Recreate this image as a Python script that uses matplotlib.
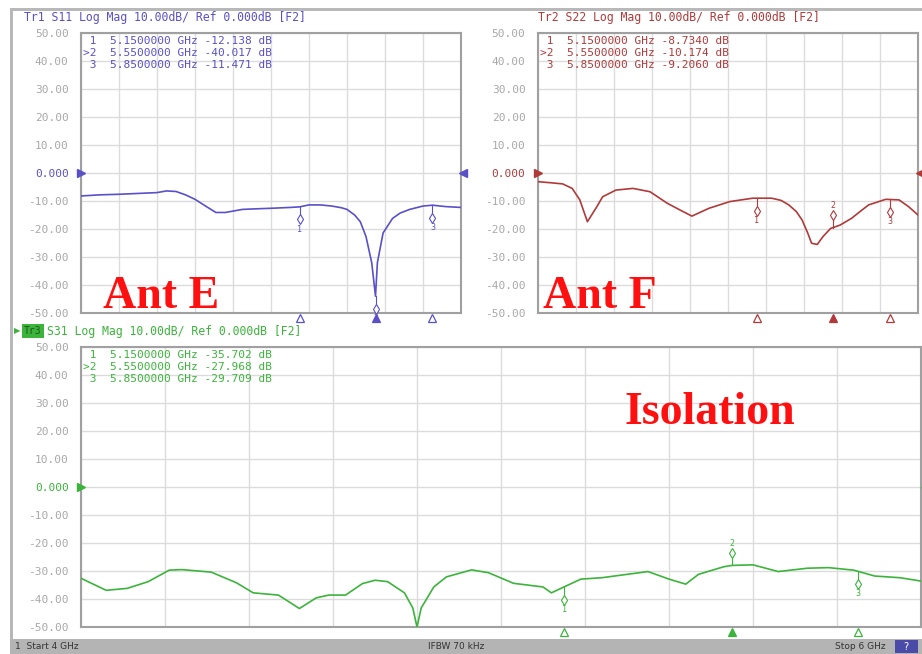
import numpy as np
import matplotlib
matplotlib.use("Agg")
import matplotlib.pyplot as plt
from matplotlib.patches import Rectangle
from matplotlib.ticker import FuncFormatter

W, H = 922, 654

# --- data (GHz, dB) ---
f_s11 = [4.00, 4.10, 4.20, 4.30, 4.40, 4.45, 4.50, 4.55, 4.60, 4.66, 4.71, 4.76, 4.80, 4.85,
         4.92, 5.00, 5.10, 5.15, 5.20, 5.26, 5.32, 5.37, 5.40, 5.44, 5.47, 5.50, 5.53, 5.55,
         5.56, 5.59, 5.64, 5.68, 5.73, 5.80, 5.85, 5.92, 6.00]
db_s11 = [-8.2, -7.8, -7.6, -7.3, -7.0, -6.4, -6.6, -7.8, -9.4, -12.0, -14.1, -14.1, -13.6, -13.0,
          -12.8, -12.6, -12.3, -12.1, -11.4, -11.4, -11.8, -12.4, -13.0, -15.0, -17.4, -22.7, -32.0, -44.0,
          -32.0, -21.4, -16.2, -14.3, -13.0, -11.8, -11.5, -12.0, -12.3]

f_s22 = [4.00, 4.07, 4.13, 4.18, 4.22, 4.26, 4.31, 4.34, 4.41, 4.50, 4.59, 4.68, 4.75, 4.81,
         4.90, 5.01, 5.13, 5.23, 5.28, 5.32, 5.36, 5.39, 5.42, 5.44, 5.47, 5.50, 5.54, 5.59,
         5.65, 5.70, 5.74, 5.83, 5.90, 5.95, 6.00]
db_s22 = [-3.1, -3.5, -3.9, -5.5, -9.6, -17.4, -12.0, -8.5, -6.1, -5.5, -6.7, -10.8, -13.3, -15.4,
          -12.6, -10.2, -9.0, -9.0, -9.8, -11.4, -13.8, -16.8, -21.5, -25.1, -25.5, -22.7, -19.8, -18.6,
          -16.2, -13.5, -11.4, -9.4, -9.6, -12.0, -15.0]

f_s31 = [4.00, 4.06, 4.11, 4.16, 4.21, 4.24, 4.31, 4.37, 4.41, 4.47, 4.49, 4.52, 4.56,
         4.59, 4.63, 4.67, 4.70, 4.73, 4.77, 4.79, 4.80, 4.81, 4.84, 4.87, 4.93, 4.97,
         5.03, 5.10, 5.12, 5.15, 5.19, 5.24, 5.29, 5.35, 5.40, 5.44, 5.47, 5.53, 5.55,
         5.60, 5.66, 5.73, 5.78, 5.84, 5.89, 5.95, 6.00]
db_s31 = [-32.6, -36.9, -36.2, -33.8, -29.7, -29.5, -30.4, -34.2, -37.8, -38.6, -40.5, -43.4, -39.6,
          -38.6, -38.6, -34.5, -33.3, -33.8, -37.8, -43.2, -50.0, -43.2, -35.7, -32.1, -29.6, -30.6,
          -34.4, -35.7, -37.8, -35.7, -32.9, -32.4, -31.4, -30.2, -32.9, -34.7, -31.2, -28.5, -28.0,
          -27.8, -30.2, -29.0, -28.8, -29.7, -31.8, -32.4, -33.6]

marker_f = [5.15, 5.55, 5.85]
titles = ["Tr1 S11 Log Mag 10.00dB/ Ref 0.000dB [F2]",
          "Tr2 S22 Log Mag 10.00dB/ Ref 0.000dB [F2]",
          "S31 Log Mag 10.00dB/ Ref 0.000dB [F2]"]
readouts = [[" 1  5.1500000 GHz -12.138 dB", ">2  5.5500000 GHz -40.017 dB", " 3  5.8500000 GHz -11.471 dB"],
            [" 1  5.1500000 GHz -8.7340 dB", ">2  5.5500000 GHz -10.174 dB", " 3  5.8500000 GHz -9.2060 dB"],
            [" 1  5.1500000 GHz -35.702 dB", ">2  5.5500000 GHz -27.968 dB", " 3  5.8500000 GHz -29.709 dB"]]
# side of the curve each marker glyph hangs on (-1 below, +1 above)
marker_side = [[-1, -1, -1], [-1, 1, -1], [-1, 1, -1]]
big_labels = ["Ant E", "Ant F", "Isolation"]

colors = ["#5a50c8", "#b03a3a", "#3cb43c"]
mono = "DejaVu Sans Mono"
grey_txt = "#a8a8a8"


def px_rect(l, t, r, b):
    return [l / W, (H - b) / H, (r - l) / W, (b - t) / H]


fig = plt.figure(figsize=(W / 100, H / 100), dpi=100)

# outer screen frame
fig.add_artist(Rectangle((10 / W, 0), 3 / W, (H - 8) / H, transform=fig.transFigure,
                         color="#b8b8b8", lw=0))
fig.add_artist(Rectangle((10 / W, (H - 11) / H), (W - 10) / W, 3 / H, transform=fig.transFigure,
                         color="#b8b8b8", lw=0))
# status bar
fig.add_artist(Rectangle((10 / W, 0), (W - 10) / W, 15 / H, transform=fig.transFigure,
                         color="#b4b4b4", lw=0))
fig.add_artist(Rectangle((895 / W, 1 / H), 23 / W, 13 / H, transform=fig.transFigure,
                         color="#4a4aa8", lw=0))
fig.text(15 / W, 7.5 / H, "1  Start 4 GHz", fontsize=6.5, color="#333333", va="center")
fig.text(428 / W, 7.5 / H, "IFBW 70 kHz", fontsize=6.5, color="#333333", va="center")
fig.text(835 / W, 7.5 / H, "Stop 6 GHz", fontsize=6.5, color="#333333", va="center")
fig.text(906 / W, 7.5 / H, "?", fontsize=7, color="white", va="center", ha="center")

px = [(81, 33, 461, 313), (538, 33, 918, 313), (81, 347, 921, 627)]
freqs = [f_s11, f_s22, f_s31]
vals = [db_s11, db_s22, db_s31]
title_pos = [(24, 17), (538, 17), (47, 331)]
label_pos = [(103, 308), (543, 308), (625, 424)]


def fmt(v, pos):
    if abs(v) < 1e-9:
        return "0.000"
    return "%.2f" % v


for k in range(3):
    ax = fig.add_axes(px_rect(*px[k]))
    wpx = px[k][2] - px[k][0]
    c = colors[k]
    ax.plot(freqs[k], vals[k], color=c, lw=1.2, zorder=3)
    ax.set_xlim(4, 6)
    ax.set_ylim(-50, 50)
    ax.set_xticks(np.linspace(4, 6, 11))
    ax.set_yticks(range(-50, 51, 10))
    ax.grid(True, color="#dcdcdc", lw=1.0)
    ax.tick_params(length=0, labelbottom=False, pad=9)
    ax.yaxis.set_major_formatter(FuncFormatter(fmt))
    for lab in ax.get_yticklabels():
        lab.set_fontfamily(mono)
        lab.set_fontsize(8)
        lab.set_color(c if lab.get_text() == "0.000" else grey_txt)
    for s in ax.spines.values():
        s.set_color("#a0a0a0")
        s.set_linewidth(1.5)

    # reference level arrows
    ax.plot([0], [0], marker=">", color=c, ms=6, transform=ax.get_yaxis_transform(),
            clip_on=False, zorder=5)
    ax.plot([1.005], [0], marker="<", color=c, ms=6, transform=ax.get_yaxis_transform(),
            clip_on=False, zorder=5)

    # markers on trace and stimulus triangles below the grid
    for j, mf in enumerate(marker_f):
        yv = np.interp(mf, freqs[k], vals[k])
        sd = marker_side[k][j]
        ax.plot([mf, mf], [yv, yv + sd * 4], color=c, lw=0.8, zorder=4)
        ax.plot(mf, yv + sd * 4.5, marker="d", ms=5, mfc="white", mec=c, mew=0.8, zorder=4)
        ax.text(mf, yv + sd * 8, str(j + 1), fontsize=6, color=c, ha="center", va="center",
                fontfamily=mono, zorder=4)
        filled = (j == 1)
        ax.plot(mf, -5 / 280, marker="^", ms=5.5, transform=ax.get_xaxis_transform(),
                clip_on=False, mfc=c if filled else "white", mec=c, mew=0.9, zorder=5)

    # readout block
    for i, line in enumerate(readouts[k]):
        ax.text(2 / wpx, 0.988 - i * 0.043, line, transform=ax.transAxes, fontsize=8,
                fontfamily=mono, color=c, va="top", ha="left")

    # big annotation
    fig.text(label_pos[k][0] / W, (H - label_pos[k][1]) / H, big_labels[k],
             fontsize=33, fontweight="bold", fontfamily="Liberation Serif", color="#ff1010",
             ha="left", va="baseline")

# channel titles
for k in range(3):
    fig.text(title_pos[k][0] / W, (H - title_pos[k][1]) / H, titles[k], fontsize=8.3,
             fontfamily=mono, color=colors[k], va="center")
fig.add_artist(Rectangle((22 / W, (H - 338) / H), 22 / W, 14 / H, transform=fig.transFigure,
                         color="#3cb43c", lw=0))
fig.text(33 / W, (H - 331) / H, "Tr3", fontsize=7, fontfamily=mono, color="#1a5a1a",
         ha="center", va="center")
fig.text(17 / W, (H - 331) / H, "\u25b6", fontsize=6, color="#3cb43c", ha="center", va="center")

fig.savefig("out.png", dpi=100, facecolor="white")
